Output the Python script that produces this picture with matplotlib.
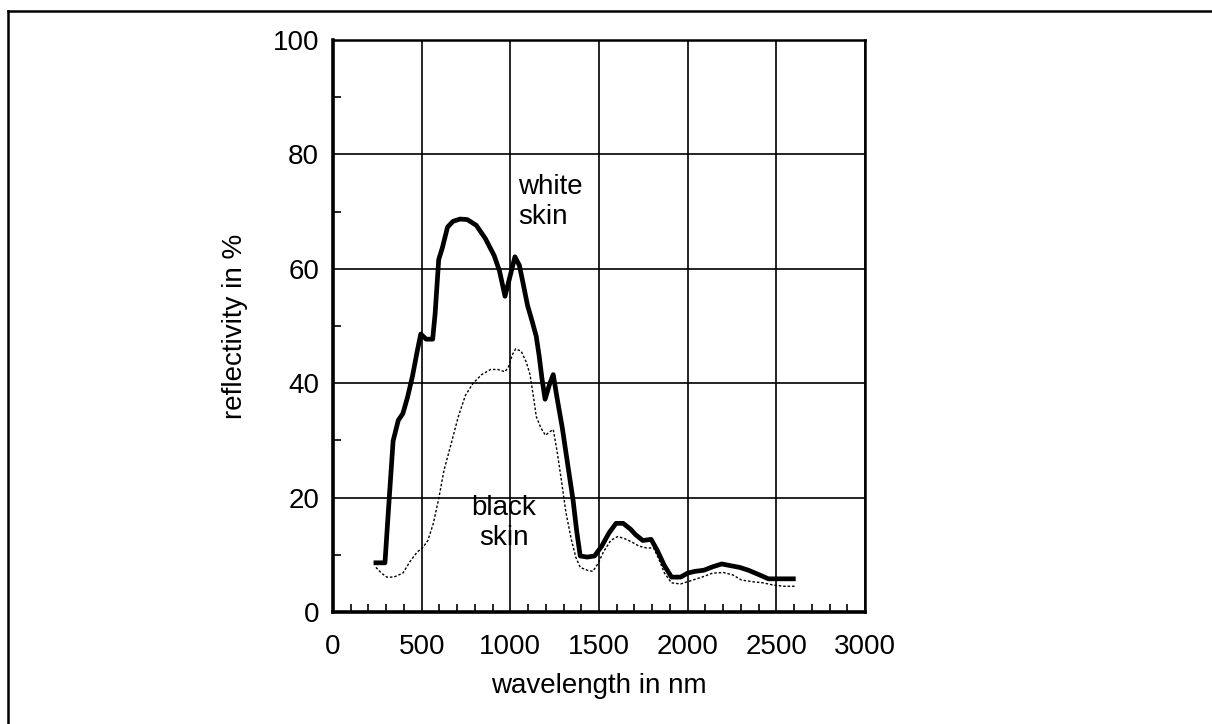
import numpy as np
import matplotlib.pyplot as plt
from matplotlib.lines import Line2D
from matplotlib.ticker import MultipleLocator

plt.rcParams['font.family'] = ['Liberation Sans', 'DejaVu Sans']

# white skin (thick solid)
white_wl = [242, 293, 313, 339, 368, 394, 420, 448, 475, 495, 525, 562, 576, 596,
            616, 646, 677, 717, 758, 808, 859, 909, 939, 970, 1000, 1026, 1051,
            1071, 1097, 1125, 1146, 1162, 1178, 1196, 1222, 1242, 1263, 1293, 1323,
            1354, 1374, 1394, 1434, 1475, 1515, 1556, 1596, 1636, 1677, 1707, 1747,
            1794, 1828, 1869, 1909, 1960, 2000, 2040, 2091, 2141, 2192, 2242, 2293,
            2343, 2404, 2455, 2525, 2596]
white_refl = [8.6, 8.6, 18.0, 29.9, 33.5, 34.7, 37.5, 41.2, 45.6, 48.6, 47.7, 47.7,
              52.2, 61.6, 63.6, 67.3, 68.3, 68.7, 68.6, 67.6, 65.3, 62.3, 59.6, 55.2,
              58.9, 62.1, 60.6, 57.6, 53.6, 50.6, 48.2, 44.9, 40.9, 37.2, 39.9, 41.5,
              37.5, 32.2, 25.9, 19.5, 14.2, 9.8, 9.6, 9.8, 11.5, 13.8, 15.5, 15.5,
              14.5, 13.5, 12.5, 12.7, 10.8, 8.1, 6.1, 6.1, 6.8, 7.1, 7.3, 7.9, 8.4,
              8.1, 7.8, 7.3, 6.5, 5.8, 5.8, 5.8]

# black skin (thin dotted)
black_wl = [242, 273, 303, 343, 394, 434, 475, 505, 535, 566, 596, 626, 667, 707,
            747, 788, 838, 889, 929, 970, 990, 1010, 1030, 1061, 1091, 1111, 1131,
            1146, 1172, 1198, 1222, 1242, 1263, 1289, 1313, 1343, 1370, 1394, 1434,
            1465, 1495, 1525, 1566, 1606, 1646, 1687, 1727, 1768, 1808, 1838, 1869,
            1909, 1960, 2020, 2081, 2141, 2202, 2253, 2303, 2364, 2424, 2485, 2545,
            2606]
black_refl = [7.8, 6.8, 6.1, 6.1, 6.8, 8.8, 10.5, 11.2, 12.5, 15.5, 19.8, 24.8, 29.5,
              34.2, 37.9, 39.9, 41.5, 42.4, 42.4, 42.0, 42.9, 44.9, 46.0, 45.6, 43.6,
              41.5, 37.5, 34.2, 32.2, 30.9, 31.5, 31.9, 28.2, 22.8, 17.5, 12.8, 9.5,
              7.8, 7.3, 7.1, 8.5, 10.5, 12.5, 13.2, 12.8, 12.2, 11.5, 11.2, 11.2, 9.2,
              6.8, 5.1, 4.9, 5.5, 6.1, 6.8, 6.9, 6.5, 5.6, 5.3, 5.1, 4.7, 4.5, 4.5]

fig = plt.figure(figsize=(12.12, 7.24), dpi=100)
ax = fig.add_axes([333 / 1212, 1 - 612 / 724, 532 / 1212, 572 / 724])

ax.plot(white_wl, white_refl, color='black', lw=3.4, solid_joinstyle='round', zorder=3)
ax.plot(black_wl, black_refl, color='black', lw=1.0, linestyle=(0, (1.8, 1.4)), zorder=3)

ax.set_xlim(0, 3000)
ax.set_ylim(0, 100)
ax.xaxis.set_major_locator(MultipleLocator(500))
ax.xaxis.set_minor_locator(MultipleLocator(100))
ax.yaxis.set_major_locator(MultipleLocator(20))
ax.yaxis.set_minor_locator(MultipleLocator(10))
ax.grid(True, which='major', color='black', lw=1.2)
ax.set_axisbelow(True)

ax.tick_params(which='both', direction='in', top=False, right=False)
ax.tick_params(which='major', length=0)
ax.tick_params(axis='x', which='major', labelsize=20, pad=16)
ax.tick_params(axis='y', which='major', labelsize=20, pad=10)
ax.tick_params(which='minor', length=6, width=1.2)

for side in ['left', 'bottom']:
    ax.spines[side].set_linewidth(2.6)
for side in ['top', 'right']:
    ax.spines[side].set_linewidth(1.8)

ax.set_xlabel('wavelength in nm', fontsize=20, labelpad=9)
ax.set_ylabel('reflectivity in %', fontsize=20, labelpad=18)

ax.text(1045, 71.6, 'white\nskin', fontsize=20, ha='left', va='center')
ax.text(962, 15.6, 'black\nskin', fontsize=20, ha='center', va='center')

# outer frame (top and left edges only)
fig.add_artist(Line2D([8 / 1212, 1], [1 - 11 / 724, 1 - 11 / 724],
                      color='black', lw=1.8, transform=fig.transFigure))
fig.add_artist(Line2D([8 / 1212, 8 / 1212], [0, 1 - 11 / 724],
                      color='black', lw=1.8, transform=fig.transFigure))

fig.savefig('out.png', dpi=100)
